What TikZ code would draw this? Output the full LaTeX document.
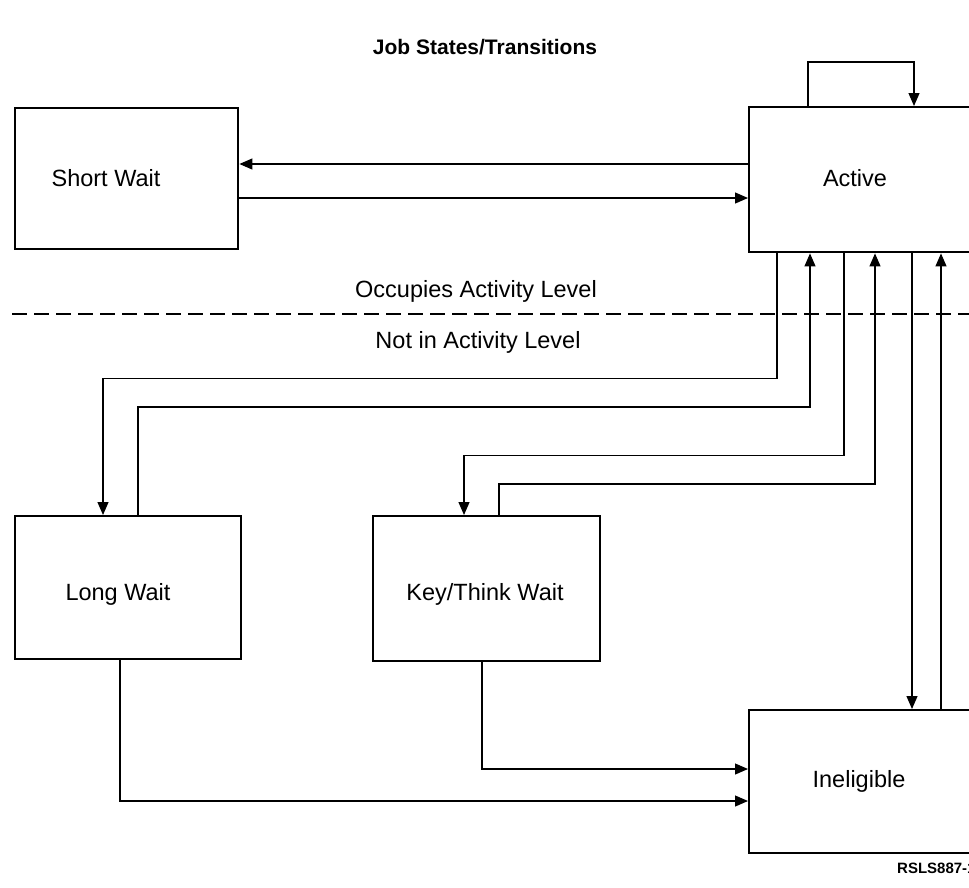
\documentclass[tikz,border=0pt]{standalone}
\usepackage{fontspec}
\setmainfont{Liberation Sans}
\usetikzlibrary{arrows.meta}
\begin{document}
\begin{tikzpicture}[x=1pt,y=-1pt,
  statebox/.style={draw, line width=2.4pt, anchor=north west, inner sep=0pt},
  lbl/.style={font=\fontsize{23.5}{27}\selectfont, inner sep=0pt, anchor=base},
  flow/.style={line width=1.2pt, -{Triangle[length=13pt,width=11pt]}}]
\useasboundingbox (0,0) rectangle (969,887);
\clip (0,0) rectangle (969,887);

% title
\node[font=\bfseries\fontsize{21}{24}\selectfont, inner sep=0pt, anchor=base] (title) at (485,54) {Job States/Transitions};

% state boxes (Active and Ineligible run off the right edge)
\node[statebox, minimum width=223pt, minimum height=141pt] (short) at (14,107) {};
\node[statebox, minimum width=300pt, minimum height=145pt] (active) at (748,106) {};
\node[statebox, minimum width=226pt, minimum height=143pt] (long) at (14,515) {};
\node[statebox, minimum width=227pt, minimum height=145pt] (key) at (372,515) {};
\node[statebox, minimum width=300pt, minimum height=143pt] (inel) at (748,709) {};

% state names
\node[lbl] (shortT) at (106,186) {Short Wait};
\node[lbl] (activeT) at (855,186) {Active};
\node[lbl] (longT) at (118,600) {Long Wait};
\node[lbl] (keyT) at (485,600) {Key/Think Wait};
\node[lbl] (inelT) at (859,787) {Ineligible};

% activity level boundary
\node[lbl] (occ) at (476,297) {Occupies Activity Level};
\node[lbl] (notocc) at (478,348) {Not in Activity Level};
\draw[line width=2pt, dash pattern=on 15pt off 7pt] (12,314) -- (975,314);

% horizontal rows used by the connectors
\coordinate (rowA) at (0,164);
\coordinate (rowB) at (0,198);
\coordinate (rowC) at (0,769);
\coordinate (rowD) at (0,801);

% transitions
\draw[flow] ([xshift=60pt]active.north west) -- ++(0,-44) -| ([xshift=166pt]active.north west);
\draw[flow] (active.west |- rowA) -- (short.east |- rowA);
\draw[flow] (short.east |- rowB) -- (active.west |- rowB);

\draw[flow] ([xshift=29pt]active.south west) -- ++(0,125) -| ([xshift=89pt]long.north west);
\draw[flow] ([xshift=124pt]long.north west) -- ++(0,-108) -| ([xshift=62pt]active.south west);
\draw[flow] ([xshift=96pt]active.south west) -- ++(0,202) -| ([xshift=92pt]key.north west);
\draw[flow] ([xshift=127pt]key.north west) -- ++(0,-31) -| ([xshift=127pt]active.south west);
\draw[flow] ([xshift=164pt]active.south west) -- ([xshift=164pt]inel.north west);
\draw[flow] ([xshift=193pt]inel.north west) -- ([xshift=193pt]active.south west);

\draw[flow] ([xshift=110pt]key.south west) |- (inel.west |- rowC);
\draw[flow] ([xshift=106pt]long.south west) |- (inel.west |- rowD);

% figure reference
\node[font=\bfseries\fontsize{15}{18}\selectfont, inner sep=0pt, anchor=base west] (figid) at (897,873) {RSLS887-1};
\end{tikzpicture}
\end{document}
